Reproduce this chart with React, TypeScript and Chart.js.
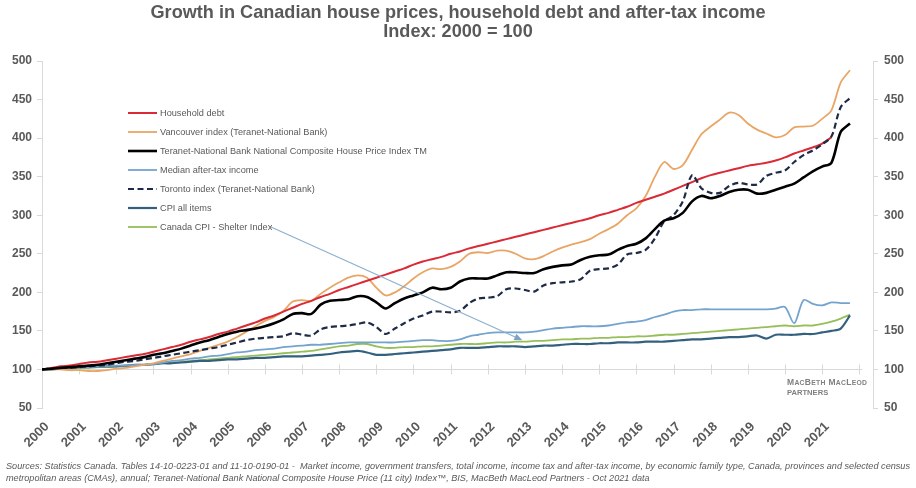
import { useEffect, useRef } from "react";
import { Chart, registerables } from "chart.js";

Chart.register(...registerables);

// ---------- data ----------
const YEARS = [2000, 2001, 2002, 2003, 2004, 2005, 2006, 2007, 2008, 2009, 2010, 2011, 2012, 2013, 2014, 2015, 2016, 2017, 2018, 2019, 2020, 2021];
const QUARTERS = [0, 0.25, 0.5, 0.75];
const Y_TICKS = [50, 100, 150, 200, 250, 300, 350, 400, 450, 500];
const X_MIN = 2000;
const X_MAX = 2022.37;
const AXIS_CROSS_VALUE = 100;

const TITLE_LINES = [
  "Growth in Canadian house prices, household debt and after-tax income",
  "Index: 2000 = 100",
];

const SOURCE_LINES = [
  "Sources: Statistics Canada. Tables 14-10-0223-01 and 11-10-0190-01 -  Market income, government transfers, total income, income tax and after-tax income, by economic family type, Canada, provinces and selected census",
  "metropolitan areas (CMAs), annual; Teranet-National Bank National Composite House Price (11 city) Index\u2122, BIS, MacBeth MacLeod Partners - Oct 2021 data",
];

const SERIES_LABELS = [
  "Household debt",
  "Vancouver index (Teranet-National Bank)",
  "Teranet-National Bank National Composite House Price Index TM",
  "Median after-tax income",
  "Toronto index (Teranet-National Bank)",
  "CPI all items",
  "Canada CPI - Shelter Index",
];

// quarterly values, one row per year (Q1..Q4)
const householdDebt = [
  100, 102, 104, 105,
  107, 109, 110, 112,
  114, 116, 118, 120,
  123, 126, 129, 132,
  136, 139, 142, 146,
  149, 153, 157, 161,
  166, 170, 175, 180,
  185, 189, 194, 198,
  203, 207, 211, 215,
  219, 223, 227, 231,
  236, 240, 243, 246,
  250, 253, 257, 260,
  263, 266, 269, 272,
  275, 278, 281, 284,
  287, 290, 293, 296,
  300, 303, 307, 311,
  316, 320, 324, 328,
  333, 338, 343, 348,
  352, 355, 358, 361,
  364, 366, 368, 371,
  375, 380, 384, 388,
  393, 401, null, null,
];

const vancouver = [
  100, 100, 100, 99,
  99, 98, 98, 99,
  101, 102, 104, 106,
  108, 111, 114, 117,
  120, 124, 128, 132,
  136, 142, 149, 156,
  163, 168, 176, 188,
  190, 189, 198, 206,
  213, 219, 222, 219,
  206, 196, 200, 208,
  218, 226, 231, 230,
  233, 240, 250, 252,
  251, 254, 254, 250,
  244, 243, 247, 253,
  258, 262, 265, 269,
  276, 282, 289, 300,
  309, 325, 350, 369,
  360, 365, 385, 405,
  415, 424, 433, 430,
  419, 411, 406, 401,
  404, 414, 415, 416,
  425, 436, 472, 488,
];

const teranetComposite = [
  100, 101, 102, 103,
  104, 105, 106, 108,
  110, 112, 114, 116,
  119, 121, 124, 127,
  131, 135, 138, 142,
  146, 149, 151, 153,
  156, 160, 165, 172,
  173, 172, 184, 189,
  190, 191, 195, 194,
  187, 179, 186, 192,
  196, 200, 206, 204,
  206, 214, 218, 218,
  218, 222, 226, 226,
  225, 225, 230, 233,
  235, 236, 242, 246,
  248, 249, 255, 260,
  263, 270, 282, 293,
  296, 303, 318, 325,
  322, 325, 330, 333,
  333, 328, 329, 333,
  337, 341, 349, 357,
  363, 368, 408, 419,
];

const medianIncome = [
  100, 101, 102, 102,
  103, 103, 104, 104,
  105, 105, 106, 106,
  107, 109, 111, 112,
  114, 115, 117, 118,
  120, 122, 123, 125,
  126, 127, 129, 130,
  131, 132, 132, 133,
  134, 135, 135, 135,
  135, 135, 135, 136,
  137, 138, 138, 137,
  137, 139, 143, 145,
  147, 148, 148, 148,
  148, 149, 151, 153,
  154, 155, 156, 156,
  156, 157, 159, 161,
  162, 164, 168, 171,
  175, 177, 177, 178,
  178, 178, 178, 178,
  178, 178, 178, 179,
  181, 160, 190, 185,
  183, 187, 186, 186,
];

const toronto = [
  100, 101, 102, 102,
  103, 104, 105, 106,
  108, 110, 111, 113,
  115, 117, 119, 121,
  123, 125, 127, 129,
  132, 135, 138, 140,
  141, 142, 143, 147,
  145, 144, 152, 155,
  156, 157, 159, 161,
  155, 146, 153, 160,
  166, 170, 175, 175,
  174, 176, 186, 192,
  193, 195, 204, 205,
  203, 201, 209, 212,
  213, 214, 217, 228,
  230, 231, 236, 249,
  251, 255, 270, 292,
  300, 318, 352, 335,
  329, 329, 338, 342,
  340, 340, 351, 355,
  358, 369, 378, 384,
  392, 402, 440, 452,
];

const cpiAllItems = [
  100, 100, 101, 102,
  103, 103, 104, 104,
  104, 105, 106, 106,
  107, 108, 108, 109,
  110, 111, 111, 112,
  113, 113, 114, 115,
  115, 116, 117, 117,
  117, 118, 119, 120,
  122, 123, 124, 122,
  119, 119, 120, 121,
  122, 123, 124, 125,
  126, 128, 128, 128,
  129, 130, 130, 130,
  129, 130, 131, 131,
  132, 133, 133, 133,
  134, 134, 135, 135,
  135, 136, 136, 136,
  137, 138, 139, 139,
  140, 141, 142, 142,
  143, 144, 140, 145,
  145, 145, 146, 146,
  148, 150, 153, 170,
];

const cpiShelter = [
  100, 100, 101, 101,
  102, 102, 103, 103,
  104, 104, 105, 106,
  107, 108, 109, 110,
  111, 112, 113, 114,
  115, 116, 117, 118,
  119, 120, 121, 122,
  123, 124, 126, 128,
  130, 131, 133, 133,
  130, 128, 128, 129,
  129, 130, 130, 131,
  132, 133, 133, 133,
  134, 135, 135, 136,
  136, 137, 137, 138,
  139, 139, 140, 140,
  141, 141, 142, 142,
  143, 143, 144, 145,
  145, 146, 147, 148,
  149, 150, 151, 152,
  153, 154, 155, 156,
  157, 156, 157, 157,
  159, 162, 166, 171,
];

const SERIES_VALUES = [householdDebt, vancouver, teranetComposite, medianIncome, toronto, cpiAllItems, cpiShelter];
const SERIES_COLORS = ["#DA2A35", "#E9A565", "#000000", "#74A4CE", "#1E2B47", "#33607F", "#96BE5A"];
const SERIES_WIDTHS = [2, 1.8, 2.6, 1.8, 2.2, 2.2, 1.8];
const SERIES_DASH: number[][] = [[], [], [], [], [6, 3.5], [], []];
const SERIES_ORDER = [2, 3, 0, 4, 1, 5, 6];

// annotation arrow (data coordinates)
const ARROW_FROM = { x: 2006.15, y: 285 };
const ARROW_TO = { x: 2012.93, y: 138 };

// ---------- styling ----------
const GREY_TEXT = "#595959";
const AXIS_GREY = "#D9D9D9";
const SANS = "'Liberation Sans', Arial, sans-serif";

const DATES = YEARS.flatMap((y) => QUARTERS.map((q) => y + q));

function drawSmallCaps(ctx: CanvasRenderingContext2D, text: string, x: number, y: number, big: number, small: number) {
  let cx = x;
  for (const ch of text) {
    const isLower = ch !== ch.toUpperCase();
    ctx.font = `bold ${isLower ? small : big}px ${SANS}`;
    const c = ch.toUpperCase();
    ctx.fillText(c, cx, y);
    cx += ctx.measureText(c).width + 0.3;
  }
}

const overlayPlugin = {
  id: "overlay",
  beforeDatasetsDraw(chart: any) {
    const { ctx, chartArea, scales } = chart;
    const xs = scales.x;
    const ys = scales.y;
    const y0 = ys.getPixelForValue(AXIS_CROSS_VALUE);
    ctx.save();
    ctx.strokeStyle = AXIS_GREY;
    ctx.lineWidth = 1;
    ctx.beginPath();
    const xEnd = xs.getPixelForValue(YEARS[YEARS.length - 1] + 1) + 3;
    ctx.moveTo(chartArea.left, Math.round(y0) + 0.5);
    ctx.lineTo(xEnd, Math.round(y0) + 0.5);
    for (const yr of [...YEARS.slice(1), YEARS[YEARS.length - 1] + 1]) {
      const px = Math.round(xs.getPixelForValue(yr)) + 0.5;
      ctx.moveTo(px, y0 - 5);
      ctx.lineTo(px, y0 + 5);
    }
    ctx.stroke();
    ctx.restore();
  },
  afterDatasetsDraw(chart: any) {
    const { ctx, scales } = chart;
    const xs = scales.x;
    const ys = scales.y;
    ctx.save();

    // title (compressed bold sans, like a narrow face)
    ctx.fillStyle = GREY_TEXT;
    ctx.textBaseline = "middle";
    ctx.textAlign = "center";
    ctx.font = `bold 18.5px ${SANS}`;
    const tsx = 615 / ctx.measureText(TITLE_LINES[0]).width;
    TITLE_LINES.forEach((line, i) => {
      ctx.save();
      ctx.translate(458, 12.5 + 19.5 * i);
      ctx.scale(tsx, 1);
      ctx.fillText(line, 0, 0);
      ctx.restore();
    });
    ctx.textAlign = "left";

    // arrow
    const ax1 = xs.getPixelForValue(ARROW_FROM.x);
    const ay1 = ys.getPixelForValue(ARROW_FROM.y);
    const ax2 = xs.getPixelForValue(ARROW_TO.x);
    const ay2 = ys.getPixelForValue(ARROW_TO.y);
    const ang = Math.atan2(ay2 - ay1, ax2 - ax1);
    ctx.strokeStyle = "#8DAECB";
    ctx.fillStyle = "#7FA3C4";
    ctx.lineWidth = 1.1;
    ctx.beginPath();
    ctx.moveTo(ax1, ay1);
    ctx.lineTo(ax2 - 6 * Math.cos(ang), ay2 - 6 * Math.sin(ang));
    ctx.stroke();
    ctx.beginPath();
    ctx.moveTo(ax2, ay2);
    ctx.lineTo(ax2 - 8 * Math.cos(ang) + 3.5 * Math.sin(ang), ay2 - 8 * Math.sin(ang) - 3.5 * Math.cos(ang));
    ctx.lineTo(ax2 - 8 * Math.cos(ang) - 3.5 * Math.sin(ang), ay2 - 8 * Math.sin(ang) + 3.5 * Math.cos(ang));
    ctx.closePath();
    ctx.fill();

    // legend
    ctx.font = `9.5px ${SANS}`;
    const longest = Math.max(...SERIES_LABELS.map((l) => ctx.measureText(l).width));
    const sx = 267 / longest;
    SERIES_LABELS.forEach((label, i) => {
      const y = 113 + 19 * i;
      ctx.strokeStyle = SERIES_COLORS[i];
      ctx.lineWidth = SERIES_WIDTHS[i];
      ctx.setLineDash(SERIES_DASH[i]);
      ctx.beginPath();
      ctx.moveTo(128, y);
      ctx.lineTo(157, y);
      ctx.stroke();
      ctx.setLineDash([]);
      ctx.save();
      ctx.translate(160, y);
      ctx.scale(sx, 1);
      ctx.fillStyle = GREY_TEXT;
      ctx.textBaseline = "middle";
      ctx.textAlign = "left";
      ctx.font = `9.5px ${SANS}`;
      ctx.fillText(label, 0, 0.5);
      ctx.restore();
    });

    // watermark
    ctx.fillStyle = "#808080";
    ctx.textBaseline = "alphabetic";
    ctx.textAlign = "left";
    drawSmallCaps(ctx, "MacBeth MacLeod", 787, 385, 8.5, 6.8);
    ctx.font = `bold 7.6px ${SANS}`;
    ctx.fillText("PARTNERS", 787, 395);

    // sources
    ctx.font = `italic 8.5px ${SANS}`;
    const w = ctx.measureText(SOURCE_LINES[0]).width;
    const ssx = 904 / w;
    ctx.fillStyle = GREY_TEXT;
    ctx.textBaseline = "middle";
    SOURCE_LINES.forEach((line, i) => {
      ctx.save();
      ctx.translate(6, 467 + 12 * i);
      ctx.scale(ssx, 1);
      ctx.fillText(line, 0, 0);
      ctx.restore();
    });
    ctx.restore();
  },
};

export default function App() {
  const ref = useRef<HTMLCanvasElement | null>(null);

  useEffect(() => {
    document.body.style.margin = "0";
    const canvas = ref.current;
    if (!canvas) return;

    const datasets = SERIES_LABELS.map((label, i) => ({
      label,
      data: DATES.map((x, j) => ({ x, y: SERIES_VALUES[i][j] })),
      borderColor: SERIES_COLORS[i],
      backgroundColor: SERIES_COLORS[i],
      borderWidth: SERIES_WIDTHS[i],
      borderDash: SERIES_DASH[i],
      pointRadius: 0,
      tension: 0.3,
      fill: false,
      spanGaps: false,
      order: SERIES_ORDER[i],
      xAxisID: "x",
      yAxisID: "y",
    }));

    const tickFont = { family: SANS, size: 12, weight: "bold" as const };

    const chart = new Chart(canvas, {
      type: "line",
      data: { datasets },
      plugins: [overlayPlugin],
      options: {
        animation: false,
        responsive: true,
        maintainAspectRatio: false,
        events: [],
        layout: { padding: { top: 61, left: 0, right: 0, bottom: 27 } },
        plugins: {
          legend: { display: false },
          tooltip: { enabled: false },
          title: { display: false },
        },
        scales: {
          x: {
            type: "linear",
            min: X_MIN,
            max: X_MAX,
            grid: { display: false },
            border: { display: false },
            ticks: {
              stepSize: 1,
              autoSkip: false,
              includeBounds: false,
              minRotation: 45,
              maxRotation: 45,
              padding: 3,
              labelOffset: 5,
              color: GREY_TEXT,
              font: { family: SANS, size: 13, weight: "bold" as const },
              callback: (v: any) => (YEARS.includes(Number(v)) ? String(v) : ""),
            },
            afterFit: (s: any) => {
              s.height = 53;
            },
          },
          y: {
            position: "left",
            min: Y_TICKS[0],
            max: Y_TICKS[Y_TICKS.length - 1],
            grid: { display: true, drawOnChartArea: false, drawTicks: true, tickLength: 5, color: AXIS_GREY },
            border: { display: true, color: AXIS_GREY },
            ticks: { stepSize: 50, padding: 5, color: GREY_TEXT, font: tickFont },
            afterFit: (s: any) => {
              s.width = 42;
            },
          },
          y2: {
            position: "right",
            min: Y_TICKS[0],
            max: Y_TICKS[Y_TICKS.length - 1],
            grid: { display: true, drawOnChartArea: false, drawTicks: true, tickLength: 5, color: AXIS_GREY },
            border: { display: true, color: AXIS_GREY },
            ticks: { stepSize: 50, padding: 6, color: GREY_TEXT, font: tickFont },
            afterFit: (s: any) => {
              s.width = 43;
            },
          },
        },
      },
    });

    return () => chart.destroy();
  }, []);

  return (
    <div style={{ position: "relative", width: 916, height: 488, background: "#ffffff" }}>
      <canvas ref={ref} />
    </div>
  );
}
